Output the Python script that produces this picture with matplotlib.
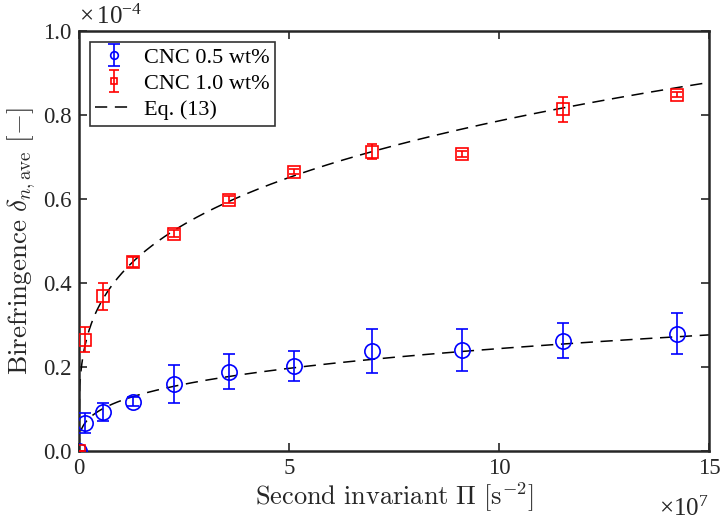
import matplotlib.pyplot as plt
import numpy as np

plt.rcParams['font.family'] = ['Liberation Serif', 'DejaVu Serif']
plt.rcParams['mathtext.fontset'] = 'cm'

# x in units of 1e7 s^-2, y in units of 1e-4
pi_05 = [0.0, 0.14, 0.57, 1.29, 2.26, 3.57, 5.12, 6.98, 9.12, 11.52, 14.24]
dn_05 = [0.0, 0.067, 0.093, 0.117, 0.160, 0.188, 0.202, 0.238, 0.240, 0.262, 0.279]
err_05 = [0.0, 0.024, 0.021, 0.010, 0.045, 0.042, 0.035, 0.052, 0.050, 0.042, 0.049]

pi_10 = [0.0, 0.14, 0.57, 1.29, 2.26, 3.57, 5.12, 6.98, 9.12, 11.52, 14.24]
dn_10 = [0.0, 0.265, 0.368, 0.450, 0.517, 0.598, 0.664, 0.712, 0.707, 0.813, 0.848]
err_10 = [0.0, 0.030, 0.032, 0.012, 0.008, 0.008, 0.006, 0.018, 0.008, 0.030, 0.006]

# Eq. (13) power-law fit parameters
a_05, n_05 = 0.129, 0.31
a_10, n_10 = 0.45, 0.272

fig = plt.figure(figsize=(7.22, 5.31), dpi=100)
ax = fig.add_axes([0.109, 0.151, 0.873, 0.791])

xf = np.linspace(0, 15, 600)
h1 = ax.errorbar(pi_05, dn_05, yerr=err_05, fmt='o', color='#0000ff', mfc='none',
                 ms=11, mew=1.2, elinewidth=1.2, capsize=4.5, capthick=1.2,
                 label='CNC 0.5 wt%', zorder=3)
h2 = ax.errorbar(pi_10, dn_10, yerr=err_10, fmt='s', color='#ff0000', mfc='none',
                 ms=9, mew=1.2, elinewidth=1.2, capsize=3.5, capthick=1.2,
                 label='CNC 1.0 wt%', zorder=3)
h3, = ax.plot(xf, a_05 * (xf / 1.29) ** n_05, '--', color='k', lw=1.1,
              dashes=(8, 5), label='Eq. (13)', zorder=2)
ax.plot(xf, a_10 * (xf / 1.29) ** n_10, '--', color='k', lw=1.1,
        dashes=(8, 5), zorder=2)

ax.set_xlim(0, 15)
ax.set_ylim(0, 1.0)
ax.set_xticks([0, 5, 10, 15])
ax.set_yticks(np.arange(0, 1.01, 0.2))
ax.set_yticklabels(['%.1f' % v for v in np.arange(0, 1.01, 0.2)])
ax.tick_params(direction='in', top=True, right=True, labelsize=16.5,
               length=6, width=1.2, colors='#262626', pad=5)
for s in ax.spines.values():
    s.set_linewidth(1.8)
    s.set_color('#262626')

ax.set_xlabel(r'$\mathrm{Second\ invariant}\ \Pi\ [\mathrm{s}^{-2}]$',
              fontsize=19, color='#262626', labelpad=1)
ax.set_ylabel(r'$\mathrm{Birefringence}\ \delta_{n,\mathrm{ave}}\ [-]$',
              fontsize=19.5, color='#262626', labelpad=4)
ax.text(0.0, 1.005, r'$\mathregular{\times\,10^{-4}}$', transform=ax.transAxes,
        fontsize=18, va='bottom', ha='left', color='#262626')
ax.text(1.0, -0.11, r'$\mathregular{\times10^{7}}$', transform=ax.transAxes,
        fontsize=18, va='top', ha='right', color='#262626')

leg = ax.legend(handles=[h1, h2, h3], loc='upper left', fontsize=16,
                frameon=True, fancybox=False, edgecolor='k', handlelength=1.7,
                handletextpad=0.5, borderaxespad=0.5, borderpad=0.25,
                labelspacing=0.25, markerscale=0.5)
leg.get_frame().set_linewidth(1.2)

fig.savefig('out.png', dpi=100)
